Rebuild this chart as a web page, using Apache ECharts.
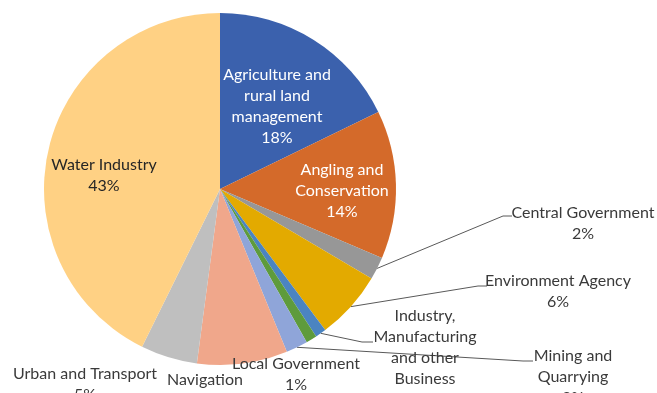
<!DOCTYPE html>
<html><head><meta charset="utf-8">
<script src="https://cdn.jsdelivr.net/npm/echarts@6/dist/echarts.min.js"></script>
<style>html,body{margin:0;padding:0;background:#fff;}#c{width:657px;height:393px;}</style>
</head><body><div id="c"></div>
<script>
const categories = ["Agriculture and rural land management","Angling and Conservation","Central Government","Environment Agency","Industry, Manufacturing and other Business","Local Government","Mining and Quarrying","Navigation","Urban and Transport","Water Industry"];
const labelTexts = ["Agriculture and\nrural land\nmanagement","Angling and\nConservation","Central Government","Environment Agency","Industry,\nManufacturing\nand other\nBusiness","Local Government","Mining and\nQuarrying","Navigation","Urban and Transport","Water Industry"];
const values = [17.8, 13.6, 2.1, 6.3, 1.0, 1.0, 2.0, 8.3, 5.2, 42.7];
const colors = ['#3B61AD','#D46A2A','#979797','#E3AA00','#4B84C1','#5E9B3C','#8FA5D9','#F0A78B','#BFBFBF','#FFD184'];

// label layout (pixel placement of text blocks), inside labels flagged
const layout = [
  {x:277,y:106,inside:true,color:'#ffffff'},
  {x:342,y:191,inside:true,color:'#ffffff'},
  {x:583,y:223,elbow:[503,216],end:[512,216]},
  {x:558,y:291,elbow:[478,286],end:[487,286]},
  {x:425,y:358,elbow:[362,342],end:[373,342]},
  {x:296,y:374,noline:true},
  {x:573,y:377,elbow:[523,361],end:[533,361]},
  {x:205,y:390,noline:true},
  {x:85,y:384,noline:true},
  {x:104,y:175,inside:true,color:'#262626'}
];

const chart = echarts.init(document.getElementById('c'));
const data = categories.map((n,i)=>({
  name:n, value:values[i],
  itemStyle:{color:colors[i]},
  label:{color: layout[i].color || '#3a3a3a'},
  labelLine:{show: !(layout[i].inside || layout[i].noline)}
}));
chart.setOption({
  animation:false,
  series:[{
    type:'pie',
    center:[220,189],
    radius:176,
    startAngle:90,
    clockwise:true,
    avoidLabelOverlap:false,
    itemStyle:{borderWidth:0},
    label:{
      show:true,
      position:'outside',
      fontFamily:'Lato',
      fontSize:16,
      lineHeight:21,
      align:'center',
      formatter:function(p){return labelTexts[p.dataIndex]+'\n'+Math.round(p.percent)+'%';}
    },
    labelLine:{show:true,lineStyle:{color:'#595959',width:1}},
    labelLayout:function(p){
      const L = layout[p.dataIndex];
      const r = {x:L.x,y:L.y,align:'center',verticalAlign:'middle'};
      if(L.elbow && p.labelLinePoints){
        r.labelLinePoints=[p.labelLinePoints[0],L.elbow,L.end];
      }
      return r;
    },
    data:data
  }]
});
</script></body></html>
